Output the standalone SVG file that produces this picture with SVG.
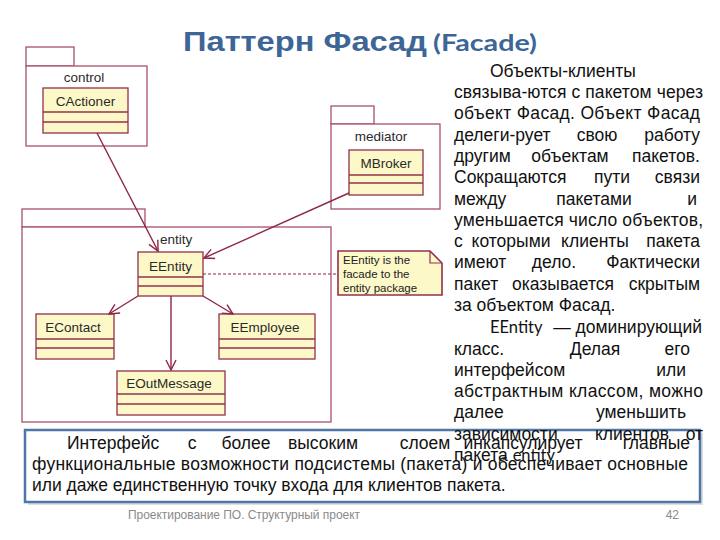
<svg xmlns="http://www.w3.org/2000/svg" width="720" height="540" viewBox="0 0 720 540">
<defs>
<style>
.pkg{fill:#ffffff;stroke:#a9516c;stroke-width:1.3}
.cls{fill:#fdf8c8;stroke:#93304c;stroke-width:1.3}
.sep{stroke:#93304c;stroke-width:1.3}
.uml{font-family:"Liberation Sans",Arial,sans-serif;font-size:13.5px;fill:#2a2a2a}
.conn{stroke:#8e2646;stroke-width:1.4;fill:none}
.body{font-family:"Liberation Sans",Arial,sans-serif;font-size:17.5px;fill:#111111}
.m{text-anchor:middle}
.e{text-anchor:end}
.cal{font-family:Lato,"Open Sans",sans-serif;font-size:16.5px}
.note{font-family:"Liberation Sans",Arial,sans-serif;font-size:11.5px;fill:#222222}
</style>
<marker id="arr" markerWidth="14" markerHeight="14" refX="11" refY="6" orient="auto" markerUnits="userSpaceOnUse">
<path d="M1,1 L11,6 L1,11" fill="none" stroke="#8e2646" stroke-width="1.4"/>
</marker>
</defs>
<rect width="720" height="540" fill="#ffffff"/>

<g id="title">
<text x="183" y="51" font-family="Liberation Sans,Arial,sans-serif" font-weight="bold" font-size="28" fill="#3d6696" textLength="244" lengthAdjust="spacingAndGlyphs">Паттерн Фасад</text>
<text x="433" y="51" font-family="Lato,'Open Sans',sans-serif" font-weight="bold" font-size="22" fill="#3d6696" textLength="104" lengthAdjust="spacingAndGlyphs">(Facade)</text>
</g>

<g id="pkg-control">
<rect class="pkg" x="26" y="47" width="48" height="19"/>
<rect class="pkg" x="26" y="66" width="121" height="80"/>
<text class="uml" x="84" y="82" text-anchor="middle">control</text>
</g>
<g id="CActioner">
<rect class="cls" x="43" y="88" width="85" height="45"/>
<line class="sep" x1="43" y1="112" x2="128" y2="112"/>
<line class="sep" x1="43" y1="122" x2="128" y2="122"/>
<text class="uml" x="85.5" y="106" text-anchor="middle">CActioner</text>
</g>

<g id="pkg-mediator">
<rect class="pkg" x="331" y="106" width="43" height="18"/>
<rect class="pkg" x="331" y="124" width="109" height="85"/>
<text class="uml" x="381" y="141" text-anchor="middle">mediator</text>
</g>
<g id="MBroker">
<rect class="cls" x="349" y="150" width="74" height="45"/>
<line class="sep" x1="349" y1="175" x2="423" y2="175"/>
<line class="sep" x1="349" y1="183" x2="423" y2="183"/>
<text class="uml" x="386" y="168" text-anchor="middle">MBroker</text>
</g>

<g id="pkg-entity">
<rect class="pkg" x="22" y="209" width="123" height="18"/>
<rect class="pkg" x="22" y="227" width="309" height="195"/>
<text class="uml" x="160" y="244">entity</text>
</g>
<g id="EEntity">
<rect class="cls" x="138" y="252" width="65" height="44"/>
<line class="sep" x1="138" y1="277" x2="203" y2="277"/>
<line class="sep" x1="138" y1="286" x2="203" y2="286"/>
<text class="uml" x="170.5" y="271" text-anchor="middle">EEntity</text>
</g>
<g id="EContact">
<rect class="cls" x="36" y="314" width="78" height="45"/>
<line class="sep" x1="36" y1="339" x2="114" y2="339"/>
<line class="sep" x1="36" y1="348" x2="114" y2="348"/>
<text class="uml" x="73" y="332" text-anchor="middle">EContact</text>
</g>
<g id="EEmployee">
<rect class="cls" x="219" y="314" width="96" height="45"/>
<line class="sep" x1="219" y1="339" x2="315" y2="339"/>
<line class="sep" x1="219" y1="348" x2="315" y2="348"/>
<text class="uml" x="265" y="332" text-anchor="middle">EEmployee</text>
</g>
<g id="EOutMessage">
<rect class="cls" x="117" y="371" width="108" height="44"/>
<line class="sep" x1="117" y1="394" x2="225" y2="394"/>
<line class="sep" x1="117" y1="404" x2="225" y2="404"/>
<text class="uml" x="169" y="388" text-anchor="middle">EOutMessage</text>
</g>
<g id="note">
<path d="M338,251 L430,251 L442,263 L442,295 L338,295 Z" fill="#fdf8c8" stroke="#93304c" stroke-width="1.6"/>
<path d="M430,251 L430,263 L442,263" fill="none" stroke="#93304c" stroke-width="1.2"/>
<text class="note" x="343" y="264">EEntity is the</text>
<text class="note" x="343" y="278">facade to the</text>
<text class="note" x="343" y="292">entity package</text>
</g>

<g id="connectors">
<line class="conn" x1="97" y1="133" x2="158" y2="251" marker-end="url(#arr)"/>
<line class="conn" x1="349" y1="193" x2="204" y2="258" marker-end="url(#arr)"/>
<line class="conn" x1="138" y1="296" x2="109" y2="314" marker-end="url(#arr)"/>
<line class="conn" x1="203" y1="296" x2="233" y2="314" marker-end="url(#arr)"/>
<line class="conn" x1="171" y1="296" x2="171" y2="370" marker-end="url(#arr)"/>
<line x1="203" y1="274" x2="338" y2="274" stroke="#8e2646" stroke-width="1.2" stroke-dasharray="3,2"/>
</g>

<g id="bottom-box">
<rect x="28" y="433" width="675" height="72" fill="#c9c9c9" opacity="0.6"/>
<rect x="25" y="430" width="675" height="72" fill="#ffffff" stroke="#4f76a6" stroke-width="2.5"/>
<text class="body" x="67" y="449">Интерфейс</text>
<text class="body m" x="192" y="449">с</text>
<text class="body m" x="246" y="449">более</text>
<text class="body m" x="323" y="449">высоким</text>
<text class="body m" x="425" y="449">слоем</text>
<text class="body m" x="523" y="449">инкапсулирует</text>
<text class="body e" x="690" y="449">главные</text>
<text class="body" x="32" y="470" textLength="656" lengthAdjust="spacing">функциональные возможности подсистемы (пакета) и обеспечивает основные</text>
<text class="body" x="32" y="491">или даже единственную точку входа для клиентов пакета.</text>
</g>

<g id="right-text">
<text class="body" x="490" y="77">Объекты-клиенты</text>
<text class="body" x="454" y="98" textLength="249" lengthAdjust="spacing">связыва-ются с пакетом через</text>
<text class="body" x="454" y="119" textLength="246" lengthAdjust="spacing">объект Фасад. Объект Фасад</text>
<text class="body" x="454" y="141">делеги-рует</text>
<text class="body m" x="597" y="141">свою</text>
<text class="body e" x="700" y="141">работу</text>
<text class="body" x="454" y="162">другим</text>
<text class="body m" x="570" y="162">объектам</text>
<text class="body e" x="700" y="162">пакетов.</text>
<text class="body" x="454" y="183">Сокращаются</text>
<text class="body m" x="612" y="183">пути</text>
<text class="body e" x="700" y="183">связи</text>
<text class="body" x="454" y="205">между</text>
<text class="body m" x="594" y="205">пакетами</text>
<text class="body e" x="697" y="205">и</text>
<text class="body" x="454" y="226" textLength="249" lengthAdjust="spacing">уменьшается число объектов,</text>
<text class="body" x="454" y="247">с</text>
<text class="body m" x="511" y="247">которыми</text>
<text class="body m" x="595" y="247">клиенты</text>
<text class="body e" x="700" y="247">пакета</text>
<text class="body" x="454" y="268">имеют</text>
<text class="body m" x="554" y="268">дело.</text>
<text class="body e" x="700" y="268">Фактически</text>
<text class="body" x="454" y="290">пакет</text>
<text class="body m" x="563" y="290">оказывается</text>
<text class="body e" x="700" y="290">скрытым</text>
<text class="body" x="454" y="311">за объектом Фасад.</text>

<text class="body cal" x="490" y="333">EEntity</text>
<text class="body m" x="562" y="333">—</text>
<text class="body e" x="702" y="333">доминирующий</text>
<text class="body" x="454" y="355">класс.</text>
<text class="body m" x="595" y="355">Делая</text>
<text class="body e" x="690" y="355">его</text>
<text class="body" x="454" y="376">интерфейсом</text>
<text class="body e" x="686" y="376">или</text>
<text class="body" x="454" y="397" textLength="249" lengthAdjust="spacing">абстрактным классом, можно</text>
<text class="body" x="454" y="418">далее</text>
<text class="body e" x="686" y="418">уменьшить</text>
<text class="body" x="454" y="440">зависимости</text>
<text class="body m" x="632" y="440">клиентов</text>
<text class="body e" x="703" y="440">от</text>
<text class="body" x="454" y="461">пакета <tspan class="cal">entity</tspan></text>
</g>

<g id="footer">
<text x="128" y="519" font-family="Liberation Sans,Arial,sans-serif" font-size="12" fill="#8a8a8a" textLength="232" lengthAdjust="spacing">Проектирование ПО. Структурный проект</text>
<text x="679" y="519" text-anchor="end" font-family="Liberation Sans,Arial,sans-serif" font-size="12" fill="#8a8a8a">42</text>
</g>
</svg>
